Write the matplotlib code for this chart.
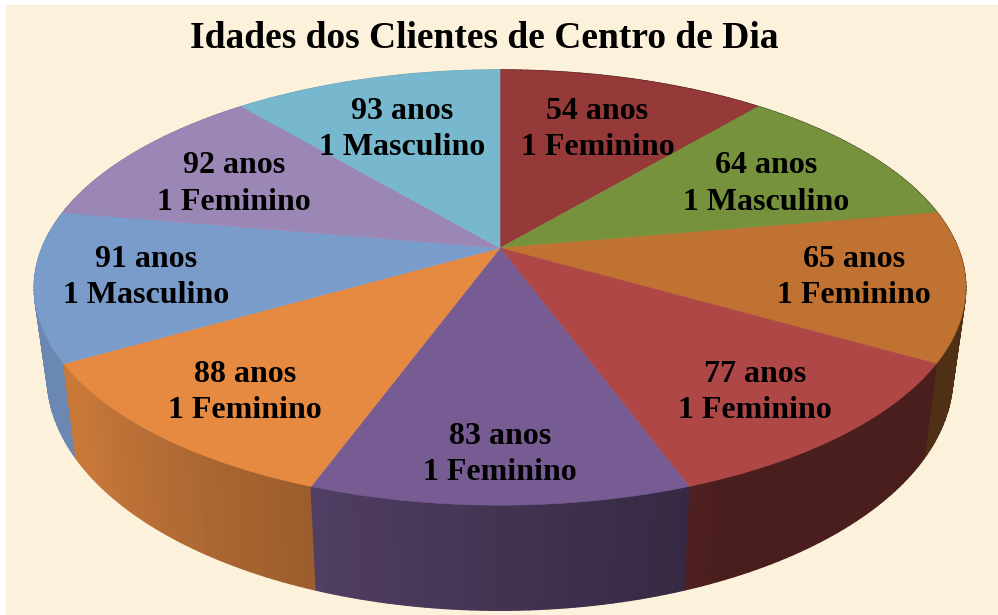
import numpy as np
import matplotlib
matplotlib.use("Agg")
import matplotlib.pyplot as plt
from matplotlib.collections import PolyCollection
from matplotlib.colors import to_rgb

# dados do grafico
idades = [54, 64, 65, 77, 83, 88, 91, 92, 93]
generos = ["Feminino", "Masculino", "Feminino", "Feminino", "Feminino",
           "Feminino", "Masculino", "Feminino", "Masculino"]
contagens = [1, 1, 1, 1, 1, 1, 1, 1, 1]
cores_topo = ["#953A38", "#76923D", "#BF7231", "#AF4746", "#775C94",
              "#E68A42", "#7A9CCB", "#9B87B5", "#78B8CE"]
titulo = "Idades dos Clientes de Centro de Dia"

# geometria da pizza 3D (pixels)
CX, CY = 500, 248
RX, RY = 458, 210.4
D = 5.5          # perspectiva
H = 86           # altura da lateral
ENC = 0.972      # base um pouco mais estreita


def projetar(theta, r=1.0):
    t = np.radians(theta)
    u, v = r * np.sin(t), r * np.cos(t)
    s = D / (D + v)
    return CX + RX * u * s, CY - RY * v * s, s


def base(theta):
    x, y, s = projetar(theta)
    return CX + (x - CX) * ENC, y + H * s


def sombra(theta):
    # lateral mais clara a esquerda, mais escura a direita
    return 0.42 + 0.45 * np.clip((theta - 155) / 80, 0, 1)


fig = plt.figure(figsize=(9.98, 6.15), dpi=100, facecolor="white")
ax = fig.add_axes([0, 0, 1, 1])
ax.set_xlim(0, 998)
ax.set_ylim(615, 0)
ax.axis("off")
ax.add_patch(plt.Rectangle((6, 5), 992, 610, color="#FCF1DA", zorder=0))

fracoes = np.array(contagens) / sum(contagens) * 360
fim = np.cumsum(fracoes)
inicio = fim - fracoes

# laterais: quads pequenos, de tras para frente
quads = []
for a, b, cor in zip(inicio, fim, cores_topo):
    angs = np.linspace(a, b, int(b - a) + 1)
    for t0, t1 in zip(angs[:-1], angs[1:]):
        x0, y0, _ = projetar(t0)
        x1, y1, _ = projetar(t1)
        bx0, by0 = base(t0)
        bx1, by1 = base(t1)
        tm = (t0 + t1) / 2
        c = np.array(to_rgb(cor)) * sombra(tm)
        quads.append((np.cos(np.radians(tm)),
                      [(x0, y0), (x1, y1), (bx1, by1), (bx0, by0)], c))
quads.sort(key=lambda q: -q[0])
ax.add_collection(PolyCollection([q[1] for q in quads],
                                 facecolors=[q[2] for q in quads],
                                 edgecolors=[q[2] for q in quads],
                                 linewidths=1.0, zorder=2))

# topo
for a, b, cor in zip(inicio, fim, cores_topo):
    angs = np.linspace(a, b, 60)
    pts = [(CX, CY)] + [projetar(t)[:2] for t in angs]
    ax.add_patch(plt.Polygon(pts, closed=True, facecolor=cor,
                             edgecolor=cor, linewidth=0.4, zorder=3))

# rotulos
for a, b, idade, gen, n in zip(inicio, fim, idades, generos, contagens):
    t = np.radians((a + b) / 2)
    u, v = np.sin(t), np.cos(t)
    lx = 500 + 336 * u / (1 + 0.19 * v) + 14 * u * (1 - abs(v)) * (v < 0)
    ly = 257 - 160 * v / (1 + 0.19 * v) - 8 * (v < 0) * (v > -0.95)
    ax.text(lx, ly, f"{idade} anos\n{n} {gen}", ha="center", va="center",
            fontsize=23, fontweight="bold", family="Liberation Serif",
            linespacing=1.33, color="black", zorder=5)

ax.text(484, 39, titulo, ha="center", va="center", fontsize=27,
        fontweight="bold", family="Liberation Serif", zorder=5)

fig.savefig("out.png", dpi=100, facecolor="white")
